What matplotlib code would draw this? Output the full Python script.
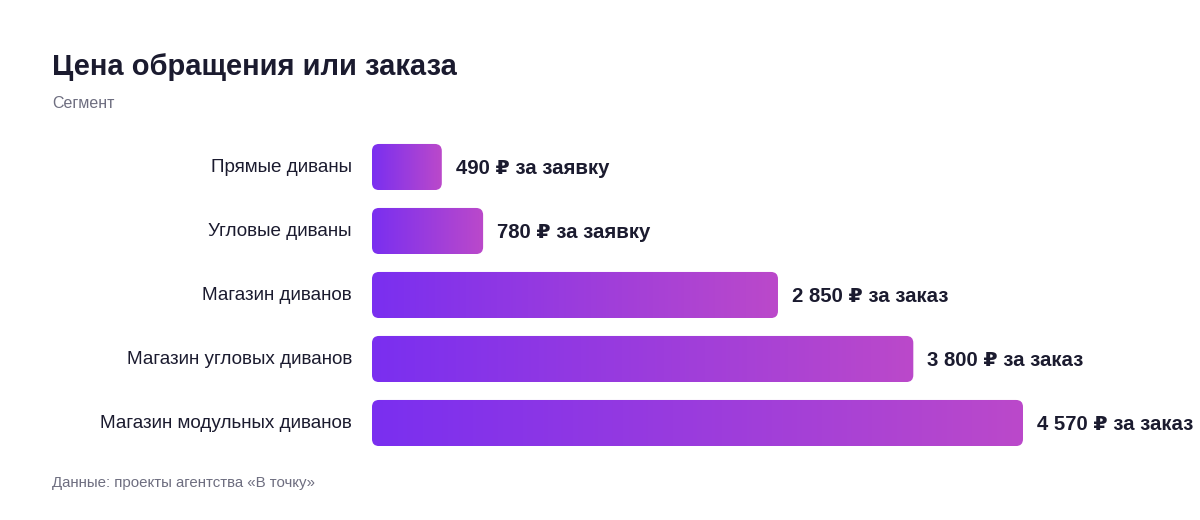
import numpy as np
import matplotlib.pyplot as plt
from matplotlib.patches import FancyBboxPatch
from matplotlib.colors import LinearSegmentedColormap
import matplotlib.transforms as mtransforms

plt.rcParams['font.family'] = ['Liberation Sans', 'DejaVu Sans']

title = 'Цена обращения или заказа'
subtitle = 'Сегмент'
source = 'Данные: проекты агентства «В точку»'
segments = ['Прямые диваны', 'Угловые диваны', 'Магазин диванов',
            'Магазин угловых диванов', 'Магазин модульных диванов']
prices = [490, 780, 2850, 3800, 4570]
units = ['за заявку', 'за заявку', 'за заказ', 'за заказ', 'за заказ']

dark = '#1b1b2f'
grey = '#6e6e80'
grad = LinearSegmentedColormap.from_list('g', ['#7a2ff0', '#bb49ca'])

W, H = 1200, 520
fig = plt.figure(figsize=(W / 100, H / 100), dpi=100)
fig.patch.set_facecolor('white')

# axes: bar zone in pixels
x0, x1 = 372, 1023
ytop, ybot = 135, 455
ax = fig.add_axes([x0 / W, 1 - ybot / H, (x1 - x0) / W, (ybot - ytop) / H])
ax.set_xlim(0, max(prices))
n = len(segments)
ax.set_ylim(n - 0.5, -0.5)
ax.axis('off')

# data units per pixel, for round corners
ux = max(prices) / (x1 - x0)
uy = n / (ybot - ytop)
r_px = 7
bh = 0.72

for i, (seg, p, u) in enumerate(zip(segments, prices, units)):
    patch = FancyBboxPatch((0, i - bh / 2), p, bh,
                           boxstyle=f'round,pad=0,rounding_size={r_px * ux}',
                           mutation_aspect=uy / ux,
                           linewidth=0, facecolor='none')
    ax.add_patch(patch)
    img = ax.imshow(np.linspace(0, 1, 256).reshape(1, -1), cmap=grad,
                    extent=(0, p, i + bh / 2, i - bh / 2), aspect='auto',
                    interpolation='bilinear')
    img.set_clip_path(patch)
    lab = f'{p:,}'.replace(',', ' ') + ' ₽ ' + u
    off = mtransforms.offset_copy(ax.transData, fig=fig, x=14, y=-2, units='dots')
    ax.text(p, i, lab, transform=off, ha='left', va='center',
            fontsize=14.7, fontweight='bold', color=dark, clip_on=False)
    offl = mtransforms.offset_copy(ax.transData, fig=fig, x=-20, y=-1, units='dots')
    ax.text(0, i, seg, transform=offl, ha='right', va='center',
            fontsize=13.6, color=dark, clip_on=False)

ax.set_xlim(0, max(prices))
ax.set_ylim(n - 0.5, -0.5)

fig.text(52 / W, 1 - 67 / H, title, fontsize=21, fontweight='bold',
         color=dark, va='center', ha='left')
fig.text(52 / W, 1 - 103 / H, subtitle, fontsize=11.5, color=grey,
         va='center', ha='left')
fig.text(52 / W, 1 - 483 / H, source, fontsize=10.8, color=grey,
         va='center', ha='left')

fig.savefig('out.png', dpi=100, facecolor='white')
